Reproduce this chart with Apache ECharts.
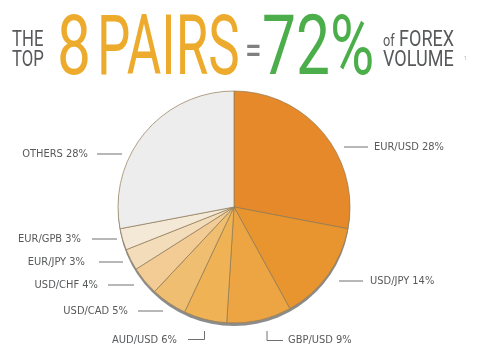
<!DOCTYPE html>
<html><head><meta charset="utf-8">
<script src="https://cdn.jsdelivr.net/npm/echarts@6/dist/echarts.min.js"></script>
<style>html,body{margin:0;padding:0;background:#fff}#c{width:480px;height:360px}</style>
</head><body><div id="c"></div>
<script>
const pairs = ['EUR/USD','USD/JPY','GBP/USD','AUD/USD','USD/CAD','USD/CHF','EUR/JPY','EUR/GPB','OTHERS'];
const shares = [28,14,9,6,5,4,3,3,28];
const sliceColors = ['#E5892A','#E8952F','#EDA544','#EFB255','#F0BE70','#F2CC94','#F3DCB9','#F4E8D6','#EDEDED'];
// label anchor layout: [x, y, align, line points]
const labelSpots = [
  [374,147,'left',[[344,147],[368,147]]],
  [370,281,'left',[[339,281],[363,281]]],
  [288,340,'left',[[267,331],[267,340.5],[283,340.5]]],
  [177,340,'right',[[188,339.5],[204.5,339.5],[204.5,331]]],
  [128,311,'right',[[138,311],[163,311]]],
  [98,285,'right',[[108,285],[134,285]]],
  [85,262,'right',[[99,262],[123,262]]],
  [81,239,'right',[[92,239],[117,239]]],
  [88,154,'right',[[97,154],[122,154]]]
];
const chart = echarts.init(document.getElementById('c'));
const labelFont = "'DejaVu Sans Condensed','Liberation Sans Narrow','Liberation Sans',sans-serif";
const thin = "Roboto, 'Liberation Sans', sans-serif";
function t(text, x, y, size, color, sx, w){
  return {type:'text', x:x, y:y, scaleX:sx, style:{text:text, fontSize:size, fontFamily:thin, fontWeight:w||'normal', fill:color, align:'left', verticalAlign:'middle'}};
}
chart.setOption({
  backgroundColor:'#fff',
  animation:false,
  graphic:[
    t('THE',12,40,22,'#58595b',0.76),
    t('TOP',12,60,22,'#58595b',0.76),
    t('8',57,53,84,'#EDAB2D',0.72),
    t('PAIRS',97,53,84,'#EDAB2D',0.63),
    t('=',245,54,40,'#808080',0.75),
    t('72%',262,53,84,'#4BAE4A',0.72),
    t('of',383,42,17,'#58595b',0.75),
    t('FOREX',399,40,22,'#58595b',0.82),
    t('VOLUME',383,60,22,'#58595b',0.82),
    t('1',464,58,6,'#aaaaaa',0.8)
  ],
  series:[{
    type:'pie',
    silent:true,
    z:1,
    center:[234,210],
    radius:116,
    data:[{name:'', value:1, itemStyle:{color:'#8c8c8c'}}],
    label:{show:false}, labelLine:{show:false},
    emphasis:{disabled:true}
  },{
    type:'pie',
    z:2,
    center:[234,207],
    radius:116,
    startAngle:90,
    clockwise:true,
    data: pairs.map((p,i)=>({name:p, value:shares[i], itemStyle:{color:sliceColors[i]}})),
    itemStyle:{borderColor:'#917b58', borderWidth:0.7},
    label:{show:true, formatter:'{b} {c}%', color:'#58595b', fontSize:11, fontFamily:labelFont, overflow:'none'},
    labelLine:{show:true, lineStyle:{color:'#707070', width:1}},
    labelLayout:function(p){
      const s = labelSpots[p.dataIndex];
      return {x:s[0], y:s[1], align:s[2], verticalAlign:'middle', labelLinePoints:s[3]};
    },
    emphasis:{disabled:true}
  }]
});
</script></body></html>
